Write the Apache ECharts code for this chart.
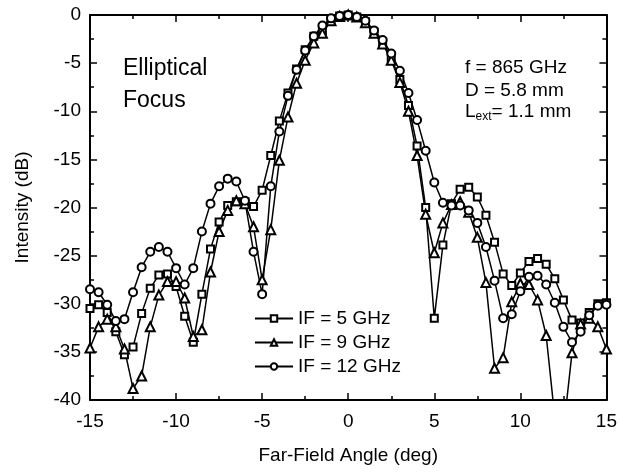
<!DOCTYPE html>
<html>
<head>
<meta charset="utf-8">
<script src="https://cdn.jsdelivr.net/npm/echarts@6/dist/echarts.min.js"></script>
<style>
html,body{margin:0;padding:0;background:#fff;}
#chart{width:620px;height:473px;}
</style>
</head>
<body>
<div id="chart"></div>
<script>
// Far-field angle (deg), sampled every 0.5 deg
const angles = [-15,-14.5,-14,-13.5,-13,-12.5,-12,-11.5,-11,-10.5,-10,-9.5,-9,-8.5,-8,-7.5,-7,-6.5,-6,-5.5,-5,-4.5,-4,-3.5,-3,-2.5,-2,-1.5,-1,-0.5,0,0.5,1,1.5,2,2.5,3,3.5,4,4.5,5,5.5,6,6.5,7,7.5,8,8.5,9,9.5,10,10.5,11,11.5,12,12.5,13,13.5,14,14.5,15];

// Intensity (dB), IF = 5 GHz (squares)
const if5 = [-30.5,-30.1,-30.9,-32.9,-35.3,-34.5,-31.0,-28.4,-27.0,-26.9,-28.2,-31.3,-34.0,-29.0,-24.3,-21.5,-19.8,-19.4,-19.4,-19.9,-18.2,-14.6,-11.0,-8.1,-5.6,-3.6,-2.2,-1.6,-0.5,-0.1,0,-0.2,-0.7,-1.8,-2.8,-4.5,-6.7,-9.4,-13.6,-20.0,-31.5,-23.9,-19.6,-18.1,-17.9,-18.9,-20.8,-23.6,-26.9,-28.1,-26.8,-25.6,-25.3,-25.9,-27.4,-29.6,-31.7,-32.0,-30.9,-30.0,-29.9];

// Intensity (dB), IF = 9 GHz (triangles)
const if9 = [-34.6,-32.4,-31.6,-32.4,-34.7,-38.8,-37.5,-32.4,-29.1,-27.7,-27.7,-29.4,-33.4,-32.7,-26.7,-22.5,-20.3,-19.3,-19.6,-22.0,-27.5,-22.3,-15.1,-10.6,-7.1,-4.7,-2.9,-1.9,-0.6,-0.15,0,-0.2,-0.8,-1.9,-3.0,-4.7,-7.0,-10.0,-14.6,-20.7,-24.7,-21.6,-19.7,-19.4,-20.5,-23.1,-27.8,-36.7,-35.6,-29.8,-27.9,-28.0,-29.6,-33.3,-41.8,-43.2,-35.1,-32.1,-31.5,-32.4,-34.7];

// Intensity (dB), IF = 12 GHz (circles)
const if12 = [-28.5,-28.8,-30.1,-31.8,-31.6,-28.8,-26.2,-24.6,-24.1,-24.6,-26.3,-28.0,-26.3,-22.5,-19.6,-17.8,-17.0,-17.3,-19.3,-24.6,-29.0,-17.8,-12.1,-8.4,-5.7,-3.7,-2.2,-1.1,-0.35,-0.1,0,-0.2,-0.6,-1.6,-2.6,-4.0,-5.8,-8.1,-10.9,-14.1,-17.4,-19.5,-19.8,-19.8,-20.3,-21.6,-24.1,-27.6,-31.5,-31.1,-28.7,-27.2,-27.1,-28.0,-29.9,-32.4,-34.0,-32.9,-31.2,-30.2,-30.1];

const seriesNames = ['IF = 5 GHz','IF = 9 GHz','IF = 12 GHz'];
const xTicks = [-15,-10,-5,0,5,10,15];
const yTicks = [0,-5,-10,-15,-20,-25,-30,-35,-40];

const FONT = '"Liberation Sans", Arial, sans-serif';
const pair = arr => angles.map((a,i)=>[a,arr[i]]);

const axisCommon = {
  axisLine:{show:true,onZero:false,lineStyle:{color:'#000',width:2}},
  axisTick:{show:true,inside:true,length:7,lineStyle:{color:'#000',width:1.5}},
  minorTick:{show:true,splitNumber:2,length:4,lineStyle:{color:'#000',width:1.5}},
  splitLine:{show:false},
  minorSplitLine:{show:false}
};

function mkSeries(name,data,symbol,size){
  return {
    name:name,type:'line',data:pair(data),symbol:symbol,symbolSize:size,
    showAllSymbol:true,clip:true,
    lineStyle:{color:'#000',width:1.5},
    itemStyle:{color:'#000',borderColor:'#000',borderWidth:1},
    emphasis:{disabled:true},animation:false,z:3
  };
}

const chart = echarts.init(document.getElementById('chart'),null,{renderer:'canvas'});
chart.setOption({
  animation:false,
  backgroundColor:'#fff',
  grid:{left:90,right:13,top:15,bottom:73,containLabel:false},
  legend:{
    show:true,orient:'vertical',left:249,top:304,
    itemWidth:38,itemHeight:8,itemGap:5,
    data:seriesNames,
    textStyle:{fontFamily:FONT,fontSize:19,color:'#000'},
    selectedMode:false
  },
  xAxis:[
    Object.assign({type:'value',min:-15,max:15,interval:5,position:'bottom',
      name:'Far-Field Angle (deg)',nameLocation:'middle',nameGap:46,
      nameTextStyle:{fontFamily:FONT,fontSize:19,color:'#000'},
      axisLabel:{show:true,margin:12,fontFamily:FONT,fontSize:19,color:'#000',
        formatter:v=>xTicks.includes(v)?String(v):''}},axisCommon),
    Object.assign({type:'value',min:-15,max:15,interval:5,position:'top',
      axisLabel:{show:false}},axisCommon)
  ],
  yAxis:[
    Object.assign({type:'value',min:-40,max:0,interval:5,position:'left',
      name:'Intensity (dB)',nameLocation:'middle',nameGap:58,
      nameTextStyle:{fontFamily:FONT,fontSize:19,color:'#000'},
      axisLabel:{show:true,margin:9,fontFamily:FONT,fontSize:19,color:'#000',
        formatter:v=>yTicks.includes(v)?String(v):''}},axisCommon),
    Object.assign({type:'value',min:-40,max:0,interval:5,position:'right',
      axisLabel:{show:false}},axisCommon)
  ],
  series:[
    mkSeries(seriesNames[0],if5,'emptyRect',7),
    mkSeries(seriesNames[1],if9,'emptyTriangle',9),
    mkSeries(seriesNames[2],if12,'emptyCircle',8)
  ],
  graphic:[
    {type:'text',left:123,top:53,style:{text:'Elliptical\nFocus',fontFamily:FONT,fontSize:23,lineHeight:32,fill:'#000'}},
    {type:'text',left:465,top:56,style:{text:'f = 865 GHz\nD = 5.8 mm',fontFamily:FONT,fontSize:19,lineHeight:23,fill:'#000'}},
    {type:'text',left:465,top:102,style:{
      text:'L{sub|ext}= 1.1 mm',fontFamily:FONT,fontSize:19,fill:'#000',
      rich:{sub:{fontFamily:FONT,fontSize:12,verticalAlign:'bottom',padding:[10,0,0,0]}}}}
  ]
});
</script>
</body>
</html>
